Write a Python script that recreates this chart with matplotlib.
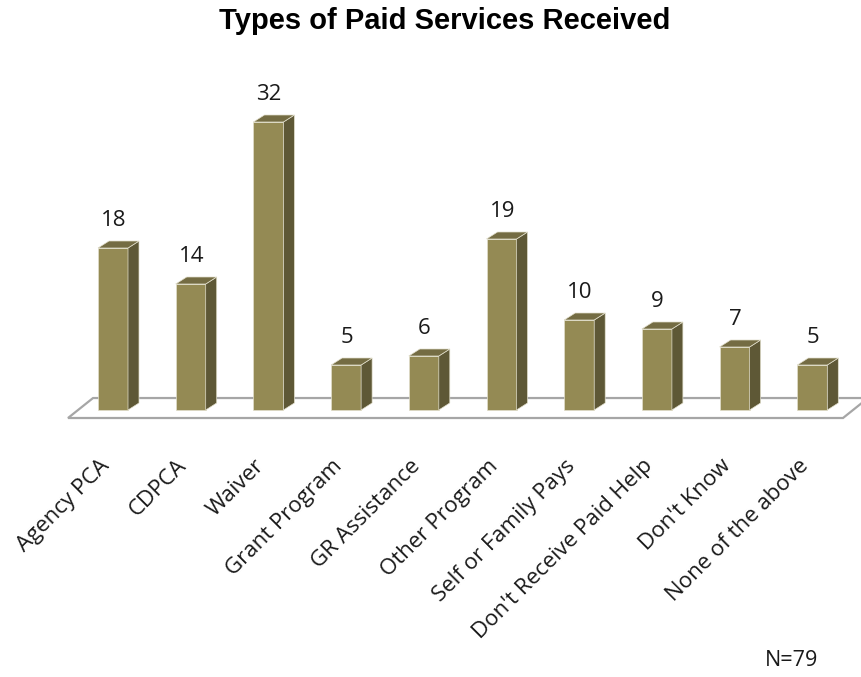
import matplotlib
matplotlib.use("Agg")
import matplotlib.pyplot as plt
from matplotlib.patches import Polygon

categories = ["Agency PCA", "CDPCA", "Waiver", "Grant Program", "GR Assistance",
              "Other Program", "Self or Family Pays", "Don't Receive Paid Help",
              "Don't Know", "None of the above"]
values = [18, 14, 32, 5, 6, 19, 10, 9, 7, 5]
title = "Types of Paid Services Received"
note = "N=79"

W, H = 861, 677
fig = plt.figure(figsize=(W / 100, H / 100), dpi=100)

# pixel layout of the plotting area
px_x0, px_x1 = 58.0, 861.0
px_y0, px_y1 = 60.0, 430.0
x_step, x_first = 77.7, 113.0
y_unit, y_base = 9.0, 410.0

ax = fig.add_axes([px_x0 / W, 1 - px_y1 / H, (px_x1 - px_x0) / W, (px_y1 - px_y0) / H])
ax.set_xlim((px_x0 - x_first) / x_step, (px_x1 - x_first) / x_step)
ax.set_ylim((y_base - px_y1) / y_unit, (y_base - px_y0) / y_unit)
ax.axis("off")

front = "#948a54"
side = "#5e5836"
top = "#746c43"
edge = "#e2dfcc"

bw = 30 / x_step
dx = 11 / x_step
dy = 7 / y_unit

# floor outline
fl = [(-0.579, -0.89), (9.395, -0.89), (9.717, 1.33), (-0.257, 1.33)]
ax.add_patch(Polygon(fl, closed=True, facecolor="white", edgecolor="#a6a6a6", lw=1.6, zorder=1))

for i, v in enumerate(values):
    x0 = i - bw / 2
    x1 = i + bw / 2
    ax.add_patch(Polygon([(x0, 0), (x1, 0), (x1, v), (x0, v)], closed=True,
                         facecolor=front, edgecolor=edge, lw=0.5, zorder=3))
    ax.add_patch(Polygon([(x1, 0), (x1 + dx, dy), (x1 + dx, v + dy), (x1, v)], closed=True,
                         facecolor=side, edgecolor=edge, lw=0.5, zorder=3))
    ax.add_patch(Polygon([(x0, v), (x1, v), (x1 + dx, v + dy), (x0 + dx, v + dy)], closed=True,
                         facecolor=top, edgecolor=edge, lw=0.5, zorder=3))
    ax.annotate(str(v), (i, v), xytext=(0.5, 19.5), textcoords="offset points",
                ha="center", va="center", fontsize=16, family="Open Sans", color="#1a1a1a")
    ax.annotate(categories[i], (i, 0), xytext=(-5, -38), textcoords="offset points",
                rotation=45, rotation_mode="anchor", ha="right", va="center",
                fontsize=16, family="Open Sans", color="#1a1a1a", annotation_clip=False)

fig.text(445 / W, 1 - 21 / H, title, ha="center", va="center", fontsize=21,
         fontweight="bold", family="Liberation Sans", color="#000000")
fig.text(792 / W, 1 - 660 / H, note, ha="center", va="center", fontsize=15.5,
         family="Open Sans", color="#1a1a1a")

fig.savefig("out.png", dpi=100)
